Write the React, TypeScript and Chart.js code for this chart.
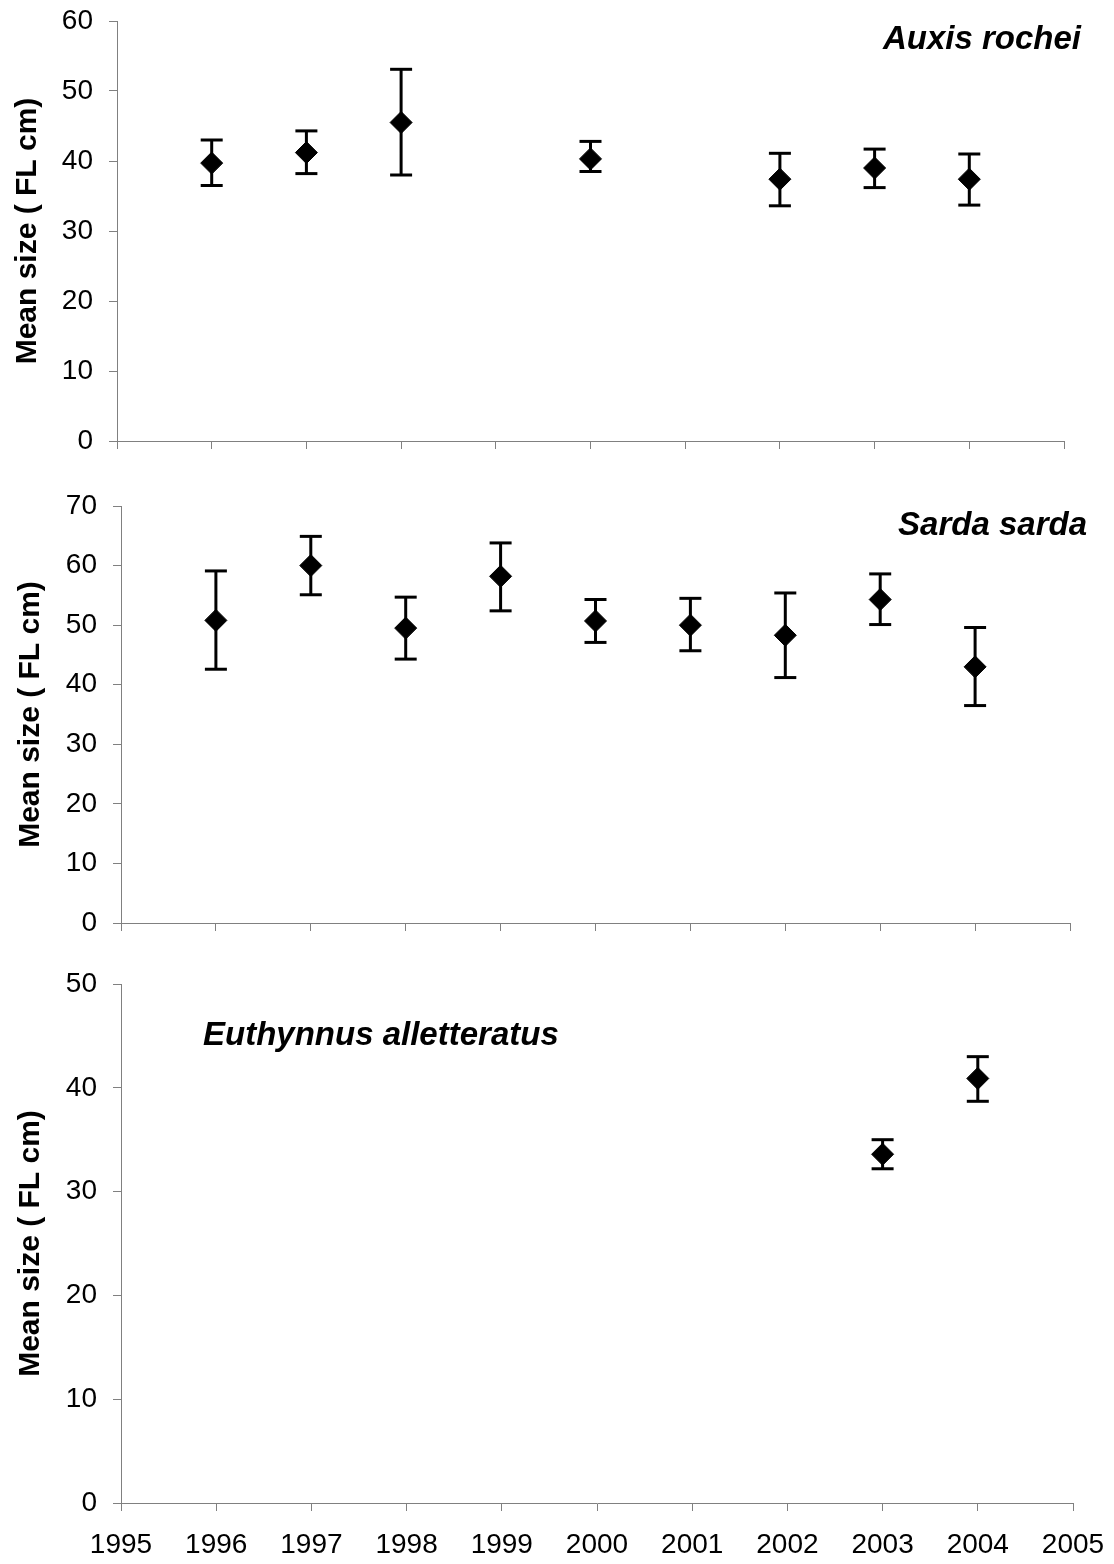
import React, { useEffect, useRef } from 'react';
import { Chart, registerables } from 'chart.js';

Chart.register(...registerables);

// ---------- data ----------
const yearTicks = [1995, 1996, 1997, 1998, 1999, 2000, 2001, 2002, 2003, 2004, 2005];
const yearLabels = ['1995', '1996', '1997', '1998', '1999', '2000', '2001', '2002', '2003', '2004', '2005'];

const auxisYears = [1996, 1997, 1998, 2000, 2002, 2003, 2004];
const auxisMean = [39.7, 41.2, 45.5, 40.3, 37.4, 39.0, 37.4];
const auxisLow = [36.5, 38.2, 38.0, 38.5, 33.6, 36.2, 33.7];
const auxisHigh = [43.0, 44.3, 53.1, 42.8, 41.1, 41.7, 41.0];

const sardaYears = [1996, 1997, 1998, 1999, 2000, 2001, 2002, 2003, 2004];
const sardaMean = [50.8, 60.0, 49.5, 58.2, 50.7, 50.0, 48.3, 54.3, 43.0];
const sardaLow = [42.6, 55.1, 44.3, 52.4, 47.1, 45.7, 41.2, 50.1, 36.5];
const sardaHigh = [59.1, 64.9, 54.7, 63.8, 54.3, 54.5, 55.4, 58.6, 49.6];

const euthYears = [2003, 2004];
const euthMean = [33.6, 40.9];
const euthLow = [32.2, 38.7];
const euthHigh = [35.0, 43.0];

const yTitle = 'Mean size ( FL cm)';

// ---------- styling ----------
const FONT = '"Liberation Sans", Arial, Helvetica, sans-serif';
const AXIS_COLOR = '#808080';

function buildDatasets(years: number[], mean: number[], low: number[], high: number[]) {
  const whiskers: any[] = [];
  const caps: any[] = [];
  years.forEach((yr, i) => {
    whiskers.push({ x: yr, y: low[i] }, { x: yr, y: high[i] }, { x: yr, y: null });
    caps.push({ x: yr, y: low[i] }, { x: yr, y: high[i] });
  });
  const means = years.map((yr, i) => ({ x: yr, y: mean[i] }));
  return [
    {
      label: 'mean',
      data: means,
      showLine: false,
      pointStyle: 'rectRot',
      pointRadius: 11,
      pointBackgroundColor: '#000',
      pointBorderColor: '#000',
      pointBorderWidth: 1,
    },
    {
      label: 'caps',
      data: caps,
      showLine: false,
      pointStyle: 'line',
      pointRadius: 11,
      pointBorderColor: '#000',
      pointBorderWidth: 3,
    },
    {
      label: 'whiskers',
      data: whiskers,
      showLine: true,
      spanGaps: false,
      borderColor: '#000',
      borderWidth: 3,
      pointRadius: 0,
    },
  ];
}

type PanelProps = {
  top: number;
  height: number;
  years: number[];
  mean: number[];
  low: number[];
  high: number[];
  yMax: number;
  padTop: number;
  padRight: number;
  yWidth: number;
  xHeight: number;
  showXLabels: boolean;
  species: string;
  speciesX: number;
  speciesY: number;
  speciesAlign: CanvasTextAlign;
  titlePad: number;
};

function Panel(p: PanelProps) {
  const ref = useRef<HTMLCanvasElement | null>(null);

  useEffect(() => {
    if (!ref.current) return;
    const speciesPlugin = {
      id: 'speciesLabel',
      afterDraw(chart: any) {
        const ctx = chart.ctx;
        ctx.save();
        ctx.font = `italic bold 33px ${FONT}`;
        ctx.fillStyle = '#000';
        ctx.textAlign = p.speciesAlign;
        ctx.textBaseline = 'alphabetic';
        ctx.fillText(p.species, p.speciesX, p.speciesY);
        ctx.restore();
      },
    };

    const chart = new Chart(ref.current, {
      type: 'scatter',
      data: { datasets: buildDatasets(p.years, p.mean, p.low, p.high) as any },
      options: {
        responsive: false,
        animation: false,
        events: [],
        layout: { padding: { top: p.padTop, right: p.padRight, left: 0, bottom: 0 } },
        plugins: {
          legend: { display: false },
          tooltip: { enabled: false },
          title: { display: false },
        },
        scales: {
          x: {
            type: 'linear',
            min: yearTicks[0],
            max: yearTicks[yearTicks.length - 1],
            afterBuildTicks: (scale: any) => {
              scale.ticks = yearTicks.map((v) => ({ value: v }));
            },
            afterFit: (scale: any) => {
              scale.height = p.xHeight;
              scale.paddingLeft = 0;
              scale.paddingRight = 0;
            },
            ticks: {
              display: p.showXLabels,
              color: '#000',
              padding: 17,
              maxRotation: 0,
              autoSkip: false,
              font: { family: FONT, size: 28 },
              callback: (_v: any, i: number) => yearLabels[i],
            },
            grid: {
              drawOnChartArea: false,
              drawTicks: true,
              tickLength: 8,
              color: AXIS_COLOR,
              lineWidth: 1,
            },
            border: { display: true, color: AXIS_COLOR, width: 1 },
          },
          y: {
            type: 'linear',
            min: 0,
            max: p.yMax,
            afterFit: (scale: any) => {
              scale.width = p.yWidth;
              scale.paddingTop = 0;
              scale.paddingBottom = 0;
            },
            ticks: {
              stepSize: 10,
              color: '#000',
              padding: 16,
              font: { family: FONT, size: 28 },
            },
            grid: {
              drawOnChartArea: false,
              drawTicks: true,
              tickLength: 8,
              color: AXIS_COLOR,
              lineWidth: 1,
            },
            border: { display: true, color: AXIS_COLOR, width: 1 },
            title: {
              display: true,
              text: yTitle,
              color: '#000',
              font: { family: FONT, size: 30, weight: 'bold' },
              padding: { top: p.titlePad, bottom: 0 },
            },
          },
        },
      } as any,
      plugins: [speciesPlugin],
    });
    return () => chart.destroy();
  }, []);

  return (
    <div style={{ position: 'absolute', left: 0, top: p.top, width: 1114, height: p.height }}>
      <canvas ref={ref} width={1114} height={p.height} style={{ display: 'block', width: 1114, height: p.height }} />
    </div>
  );
}

export default function App() {
  return (
    <div
      style={{
        position: 'absolute',
        left: 0,
        top: 0,
        width: 1114,
        height: 1564,
        overflow: 'hidden',
        background: '#fff',
      }}
    >
      <Panel
        top={0}
        height={460}
        years={auxisYears}
        mean={auxisMean}
        low={auxisLow}
        high={auxisHigh}
        yMax={60}
        padTop={21}
        padRight={50}
        yWidth={117}
        xHeight={19}
        showXLabels={false}
        species="Auxis rochei"
        speciesX={1081}
        speciesY={49}
        speciesAlign="right"
        titlePad={10}
      />
      <Panel
        top={460}
        height={490}
        years={sardaYears}
        mean={sardaMean}
        low={sardaLow}
        high={sardaHigh}
        yMax={70}
        padTop={46}
        padRight={44}
        yWidth={121}
        xHeight={27}
        showXLabels={false}
        species="Sarda sarda"
        speciesX={1087}
        speciesY={75}
        speciesAlign="right"
        titlePad={13}
      />
      <Panel
        top={950}
        height={614}
        years={euthYears}
        mean={euthMean}
        low={euthLow}
        high={euthHigh}
        yMax={50}
        padTop={34}
        padRight={41}
        yWidth={121}
        xHeight={61}
        showXLabels={true}
        species="Euthynnus alletteratus"
        speciesX={203}
        speciesY={95}
        speciesAlign="left"
        titlePad={13}
      />
    </div>
  );
}
